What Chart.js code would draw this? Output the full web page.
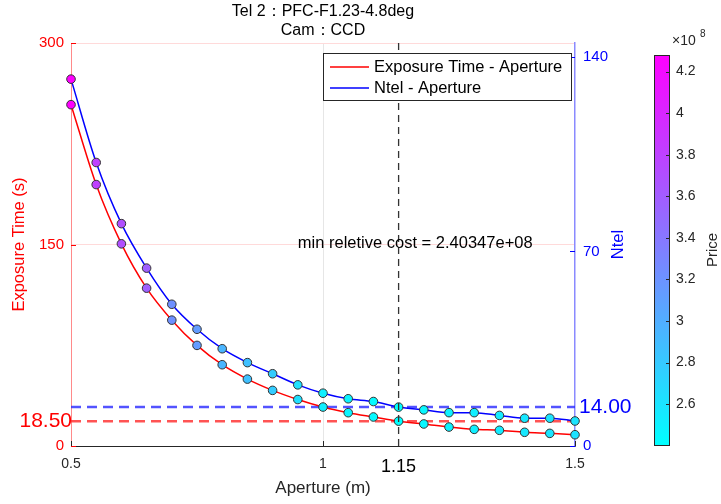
<!DOCTYPE html>
<html>
<head>
<meta charset="utf-8">
<script src="https://cdn.jsdelivr.net/npm/chart.js@4.4.1/dist/chart.umd.min.js"></script>
<style>
  html, body { margin: 0; padding: 0; background: #ffffff; }
  #wrap { width: 721px; height: 504px; }
</style>
</head>
<body>
<div id="wrap"><canvas id="c" width="721" height="504"></canvas></div>
<script>
// Aperture sweep (m) and the two quantities computed for each aperture
const apertures    = [0.50, 0.55, 0.60, 0.65, 0.70, 0.75, 0.80, 0.85, 0.90, 0.95, 1.00,
                      1.05, 1.10, 1.15, 1.20, 1.25, 1.30, 1.35, 1.40, 1.45, 1.50];
const exposureTime = [254.1, 194.6, 150.5, 117.5, 93.7, 74.9, 60.5, 49.8, 41.4, 34.6, 29.0,
                      24.8, 21.6, 18.5, 16.4, 14.1, 12.4, 11.7, 10.2, 9.4, 8.4];
const ntel         = [132, 102, 80, 64, 51, 42, 35, 30, 26, 22, 19,
                      17, 16, 14, 13, 12, 12, 11, 10, 10, 9];
// Relative price of each configuration, in units of 1e8
const price        = [4.28, 3.81, 3.70, 3.57, 3.22, 3.13, 2.95, 2.87, 2.78, 2.63, 2.52,
                      2.49, 2.45, 2.40347, 2.46, 2.50, 2.52, 2.55, 2.57, 2.60, 2.62];

// Axis ticks
const apertureTicks = [0.5, 1, 1.5];
const exposureTicks = [0, 150, 300];
const ntelTicks     = [0, 70, 140];
const priceTicks    = [2.6, 2.8, 3.0, 3.2, 3.4, 3.6, 3.8, 4.0, 4.2];

// Optimum configuration
const bestAperture = 1.15;
const bestExposure = 18.5;
const bestNtel     = 14;
const minCost      = 2.40347e8;

const titleLines  = ['Tel 2：PFC-F1.23-4.8deg', 'Cam：CCD'];
const seriesNames = ['Exposure Time - Aperture', 'Ntel - Aperture'];
const costText    = 'min reletive cost = ' + minCost.toExponential(5).replace('e+', 'e+0');

const FONT = '"Liberation Sans", Arial, Helvetica, sans-serif';
const cMin = Math.min(...price);
const cMax = Math.max(...price);

// MATLAB "cool" colormap: cyan -> magenta
function coolColor(p) {
  const t = Math.max(0, Math.min(1, (p - cMin) / (cMax - cMin)));
  return 'rgb(' + Math.round(255 * t) + ',' + Math.round(255 * (1 - t)) + ',255)';
}
const markerColors = price.map(coolColor);

const pts = (ys) => apertures.map((x, i) => ({ x: x, y: ys[i] }));
const hline = (v) => [{ x: apertures[0], y: v }, { x: apertures[apertures.length - 1], y: v }];

// colour-bar scale: bar spans 390 px inside a 403 px tall axis box
const perPx = (cMax - cMin) / 390;
const cbMin = cMin - 1 * perPx;
const cbMax = cMax + 12 * perPx;

const same = (a, b) => Math.abs(a - b) < 1e-9;

const decorations = {
  id: 'decorations',
  afterDatasetsDraw(chart) {
    // short inward tick marks on the axes
    const ctx = chart.ctx;
    const area = chart.chartArea;
    const sx = chart.scales.x, sl = chart.scales.yL, sr = chart.scales.yR;
    ctx.save();
    ctx.lineWidth = 1;
    ctx.strokeStyle = '#ff0000';
    exposureTicks.forEach(v => {
      const y = Math.round(sl.getPixelForValue(v)) + 0.5;
      ctx.beginPath(); ctx.moveTo(area.left, y); ctx.lineTo(area.left + 5, y); ctx.stroke();
    });
    ctx.strokeStyle = '#0000ff';
    ntelTicks.forEach(v => {
      const y = Math.round(sr.getPixelForValue(v)) + 0.5;
      ctx.beginPath(); ctx.moveTo(area.right, y); ctx.lineTo(area.right - 5, y); ctx.stroke();
    });
    ctx.strokeStyle = '#262626';
    apertureTicks.forEach(v => {
      const x = Math.round(sx.getPixelForValue(v)) + 0.5;
      ctx.beginPath(); ctx.moveTo(x, area.bottom); ctx.lineTo(x, area.bottom - 5); ctx.stroke();
    });
    ctx.restore();
  },
  afterDraw(chart) {
    const ctx = chart.ctx;
    const area = chart.chartArea;
    const sx = chart.scales.x, sl = chart.scales.yL, sr = chart.scales.yR, sc = chart.scales.yC;
    const cx = (area.left + area.right) / 2;
    ctx.save();

    // title
    ctx.fillStyle = '#000000';
    ctx.font = '16px ' + FONT;
    ctx.textAlign = 'center';
    ctx.textBaseline = 'middle';
    ctx.fillText(titleLines[0], cx, 12);
    ctx.fillText(titleLines[1], cx, 31);

    // axis titles
    ctx.font = '17px ' + FONT;
    ctx.fillStyle = '#262626';
    ctx.fillText('Aperture (m)', cx, 488);

    ctx.font = '16.5px ' + FONT;
    ctx.save();
    ctx.translate(19, (area.top + area.bottom) / 2);
    ctx.rotate(-Math.PI / 2);
    ctx.fillStyle = '#ff0000';
    ctx.fillText('Exposure Time (s)', 0, 0);
    ctx.restore();

    ctx.save();
    ctx.translate(618, (area.top + area.bottom) / 2);
    ctx.rotate(-Math.PI / 2);
    ctx.fillStyle = '#0000ff';
    ctx.fillText('Ntel', 0, 0);
    ctx.restore();

    // values at the optimum, written next to their axes
    ctx.font = '21px ' + FONT;
    ctx.textAlign = 'right';
    ctx.fillStyle = '#ff0000';
    ctx.fillText(bestExposure.toFixed(2), area.left + 1, sl.getPixelForValue(bestExposure));
    ctx.textAlign = 'left';
    ctx.fillStyle = '#0000ff';
    ctx.fillText(bestNtel.toFixed(2), area.right + 4, sr.getPixelForValue(bestNtel));

    // annotation of the minimum cost
    ctx.font = '16.5px ' + FONT;
    ctx.fillStyle = '#000000';
    ctx.textAlign = 'left';
    ctx.fillText(costText, sx.getPixelForValue(0.95), sl.getPixelForValue(150) - 1);

    // legend
    const lw = 248, lh = 47;
    const lx = area.right - 4 - lw, ly = area.top + 10;
    ctx.fillStyle = '#ffffff';
    ctx.fillRect(lx, ly, lw, lh);
    ctx.strokeStyle = '#262626';
    ctx.lineWidth = 1;
    ctx.strokeRect(lx + 0.5, ly + 0.5, lw, lh);
    const lcolors = ['#ff0000', '#0000ff'];
    ctx.font = '16.5px ' + FONT;
    ctx.textBaseline = 'middle';
    seriesNames.forEach((name, i) => {
      const yy = ly + 14 + i * 21;
      ctx.strokeStyle = lcolors[i];
      ctx.lineWidth = 1.5;
      ctx.beginPath();
      ctx.moveTo(lx + 7, yy);
      ctx.lineTo(lx + 46, yy);
      ctx.stroke();
      ctx.fillStyle = '#000000';
      ctx.fillText(name, lx + 51, yy);
    });

    // colour bar
    const bx = sc.left, bw = 15;
    const bTop = sc.getPixelForValue(cMax), bBot = sc.getPixelForValue(cMin);
    const g = ctx.createLinearGradient(0, bBot, 0, bTop);
    g.addColorStop(0, coolColor(cMin));
    g.addColorStop(1, coolColor(cMax));
    ctx.fillStyle = g;
    ctx.fillRect(bx, bTop, bw, bBot - bTop);
    ctx.strokeStyle = '#262626';
    ctx.lineWidth = 1;
    ctx.strokeRect(bx + 0.5, bTop + 0.5, bw, bBot - bTop);
    priceTicks.forEach(v => {
      const yy = Math.round(sc.getPixelForValue(v)) + 0.5;
      ctx.beginPath();
      ctx.moveTo(bx + bw - 3, yy);
      ctx.lineTo(bx + bw, yy);
      ctx.stroke();
    });
    ctx.fillStyle = '#262626';
    ctx.textAlign = 'left';
    ctx.font = '14px ' + FONT;
    ctx.fillText('×10', bx + 18, bTop - 14);
    ctx.font = '10px ' + FONT;
    ctx.fillText('8', bx + 46, bTop - 21);
    ctx.save();
    ctx.translate(713, (bTop + bBot) / 2);
    ctx.rotate(-Math.PI / 2);
    ctx.font = '15px ' + FONT;
    ctx.textAlign = 'center';
    ctx.fillText('Price', 0, 0);
    ctx.restore();

    ctx.restore();
  }
};

new Chart(document.getElementById('c'), {
  type: 'line',
  data: {
    datasets: [
      {
        label: 'dashed-aperture',
        data: [{ x: bestAperture, y: 0 }, { x: bestAperture, y: 300 }],
        yAxisID: 'yL',
        borderColor: '#333333',
        borderWidth: 1.3,
        borderDash: [7, 5],
        pointRadius: 0
      },
      {
        label: seriesNames[1],
        data: pts(ntel),
        yAxisID: 'yR',
        borderColor: '#0000ff',
        borderWidth: 1.5,
        cubicInterpolationMode: 'monotone',
        clip: false,
        pointRadius: 4.3,
        pointBackgroundColor: markerColors,
        pointBorderColor: '#333333',
        pointBorderWidth: 1
      },
      {
        label: seriesNames[0],
        data: pts(exposureTime),
        yAxisID: 'yL',
        borderColor: '#ff0000',
        borderWidth: 1.5,
        cubicInterpolationMode: 'monotone',
        clip: false,
        pointRadius: 4.3,
        pointBackgroundColor: markerColors,
        pointBorderColor: '#333333',
        pointBorderWidth: 1
      },
      {
        label: 'dashed-ntel',
        data: hline(bestNtel),
        yAxisID: 'yR',
        borderColor: 'rgba(40,40,255,0.8)',
        borderWidth: 2.5,
        borderDash: [10, 6],
        pointRadius: 0
      },
      {
        label: 'dashed-exposure',
        data: hline(bestExposure),
        yAxisID: 'yL',
        borderColor: 'rgba(255,40,40,0.8)',
        borderWidth: 2.5,
        borderDash: [10, 6],
        pointRadius: 0
      }
    ]
  },
  options: {
    responsive: false,
    animation: false,
    devicePixelRatio: 1,
    layout: { padding: { top: 43, left: 0, right: 0, bottom: 0 } },
    plugins: { legend: { display: false }, tooltip: { enabled: false }, title: { display: false } },
    scales: {
      x: {
        type: 'linear',
        min: apertures[0],
        max: apertures[apertures.length - 1],
        afterBuildTicks: s => { s.ticks = apertureTicks.concat([bestAperture]).map(v => ({ value: v })); },
        afterFit: s => { s.height = 58; },
        ticks: {
          autoSkip: false,
          maxRotation: 0,
          padding: 10,
          callback: v => same(v, bestAperture) ? bestAperture.toFixed(2) : String(v),
          color: c => (c.tick && same(c.tick.value, bestAperture)) ? '#000000' : '#262626',
          font: c => (c.tick && same(c.tick.value, bestAperture)) ? { family: FONT, size: 18 } : { family: FONT, size: 14 }
        },
        grid: {
          drawTicks: false,
          color: c => (c.tick && same(c.tick.value, 1)) ? '#e6e6e6' : 'rgba(0,0,0,0)'
        },
        border: { color: '#262626', width: 1 }
      },
      yL: {
        type: 'linear',
        position: 'left',
        min: 0,
        max: 300,
        afterBuildTicks: s => { s.ticks = exposureTicks.map(v => ({ value: v })); },
        afterFit: s => { s.width = 71; },
        ticks: {
          autoSkip: false,
          padding: 7,
          color: '#ff0000',
          font: { family: FONT, size: 15 }
        },
        grid: {
          drawTicks: false,
          color: c => (c.tick && (same(c.tick.value, 150) || same(c.tick.value, 300))) ? '#ffdada' : 'rgba(0,0,0,0)'
        },
        border: { color: '#ff8a8a', width: 1 }
      },
      yR: {
        type: 'linear',
        position: 'right',
        weight: 0,
        min: 0,
        max: 145,
        afterBuildTicks: s => { s.ticks = ntelTicks.map(v => ({ value: v })); },
        afterFit: s => { s.width = 79; },
        ticks: {
          autoSkip: false,
          padding: 8,
          color: '#0000ff',
          font: { family: FONT, size: 15 }
        },
        grid: { drawTicks: false, drawOnChartArea: false },
        border: { color: '#8a8aff', width: 1.5 }
      },
      yC: {
        type: 'linear',
        position: 'right',
        weight: 1,
        min: cbMin,
        max: cbMax,
        afterBuildTicks: s => { s.ticks = priceTicks.map(v => ({ value: v })); },
        afterFit: s => { s.width = 67; },
        ticks: {
          autoSkip: false,
          padding: 22,
          color: '#262626',
          font: { family: FONT, size: 14 },
          callback: v => String(Math.round(v * 10) / 10)
        },
        grid: { display: false, drawTicks: false },
        border: { display: false }
      }
    }
  },
  plugins: [decorations]
});
</script>
</body>
</html>
